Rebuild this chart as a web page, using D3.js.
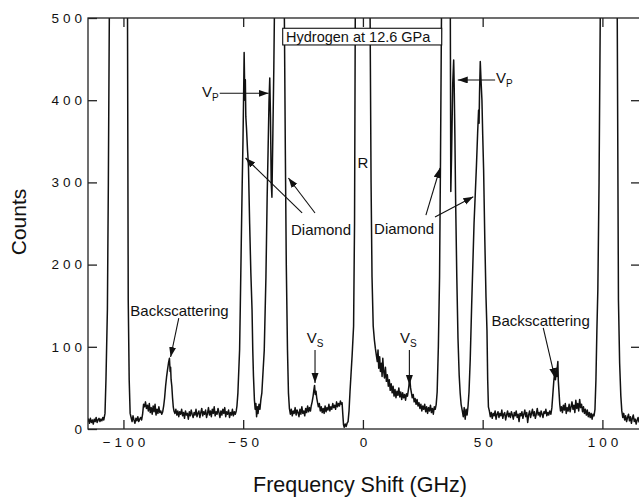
<!DOCTYPE html>
<html>
<head>
<meta charset="utf-8">
<script src="https://cdn.jsdelivr.net/npm/d3@7"></script>
<style>
  body { margin: 0; background: #fff; }
  svg text { font-family: "Liberation Sans", Arial, sans-serif; fill: #111; }
</style>
</head>
<body>
<svg id="chart"></svg>
<script>
// spectrum: [frequency shift (GHz), counts]
// off-scale peaks are given 900 and get clipped at the top
const leftWing = [
  [-115,9],[-114.6,12],[-114.2,7],[-113.8,13],[-113.4,8],[-113,11],[-112.6,6],[-112.2,12],[-111.8,9],[-111.4,14],
  [-111,8],[-110.6,11],[-110.2,13],[-109.8,9],[-109.4,12],[-109,10],[-108.6,14],[-108.2,11],[-107.7,19],[-107.3,60],
  [-106.7,145],[-106.3,300],[-105.9,500],[-105.4,900],[-98.8,900],[-98.3,500],[-98.0,157],[-97.6,60],[-97.2,19],
  [-96.8,14],[-96.4,9],[-96,16],[-95.6,11],[-95.2,7],[-94.8,13],[-94.4,10],[-94,15],[-93.6,9],[-93.2,12],[-92.8,14],
  [-92.4,11],[-92,18],[-91.6,30],[-91.2,27],[-90.8,33],[-90.4,25],[-90,29],[-89.6,22],[-89.2,31],[-88.8,20],
  [-88.4,26],[-88,18],[-87.6,28],[-87.2,21],[-86.8,30],[-86.4,17],[-86,24],[-85.6,19],[-85.2,27],[-84.8,20],
  [-84.4,22],[-84,18],[-83.6,21],[-83.2,28],[-82.8,38],[-82.4,52],[-82,63],[-81.6,72],[-81.2,80],[-80.8,86],
  [-80.5,70],[-80.3,75],[-80.1,60],[-79.8,52],[-79.5,38],[-79.2,27],[-78.9,22],[-78.5,19]
]

const leftPeaks = [
  [-78.1,24],[-77.7,17],[-77.3,22],[-76.9,15],[-76.5,21],[-76.1,18],[-75.7,24],[-75.3,16],[-74.9,20],[-74.5,13],
  [-74.1,22],[-73.7,17],[-73.3,19],[-72.9,12],[-72.5,21],[-72.1,16],[-71.7,23],[-71.3,18],[-70.9,14],[-70.5,20],
  [-70.1,17],[-69.7,24],[-69.3,15],[-68.9,19],[-68.5,22],[-68.1,14],[-67.7,20],[-67.3,25],[-66.9,16],[-66.5,21],
  [-66.1,18],[-65.7,23],[-65.3,14],[-64.9,19],[-64.5,26],[-64.1,17],[-63.7,22],[-63.3,15],[-62.9,24],[-62.5,19],
  [-62.1,27],[-61.7,16],[-61.3,21],[-60.9,18],[-60.5,25],[-60.1,20],[-59.7,14],[-59.3,22],[-58.9,17],[-58.5,24],
  [-58.1,19],[-57.7,26],[-57.3,15],[-56.9,21],[-56.5,18],[-56.1,23],[-55.7,14],[-55.3,20],[-54.9,17],[-54.5,24],
  [-54.1,16],[-53.7,21],[-53.3,18],[-52.9,22],[-52.6,28],[-52.2,44],[-51.5,96],[-51.2,150],[-50.8,226],[-50.4,300],
  [-50.1,348],[-49.8,410],[-49.6,458],[-49.3,400],[-49.1,425],[-48.9,380],[-48.6,365],[-48.2,340],[-47.8,320],
  [-47.3,250],[-46.8,190],[-46.3,145],[-46.0,96],[-45.7,64],[-45.3,35],[-45.0,24],[-44.7,31],[-44.4,15],[-44.1,27],
  [-43.8,19],[-43.4,30],[-43.0,24],[-42.6,36],[-42.2,44],[-41.2,96],[-40.5,185],[-40.0,280],[-39.6,339],[-39.2,400],
  [-38.9,427],[-38.6,380],[-38.3,300],[-38.0,282],[-37.6,360],[-37.2,440],[-36.9,520],[-36.6,900],[-33.2,900],
  [-32.8,500],[-32.4,339],[-32.0,200],[-31.5,96],[-31.1,44],[-30.7,25]
]

const center = [
  [-30.3,18],[-29.9,24],[-29.5,16],[-29.1,22],[-28.7,19],[-28.3,26],[-27.9,17],[-27.5,23],[-27.1,20],[-26.7,15],
  [-26.3,24],[-25.9,18],[-25.5,27],[-25.1,19],[-24.7,22],[-24.3,16],[-23.9,25],[-23.5,20],[-23.1,28],[-22.7,21],
  [-22.3,26],[-21.9,22],[-21.6,28],[-21.2,33],[-20.8,40],[-20.5,47],[-20.2,53],[-19.9,42],[-19.6,46],[-19.3,38],
  [-19.0,33],[-18.6,27],[-18.2,31],[-17.8,22],[-17.4,27],[-17.0,20],[-16.6,25],[-16.2,19],[-15.8,28],[-15.4,21],
  [-15.0,26],[-14.6,23],[-14.2,30],[-13.8,22],[-13.4,27],[-13.0,24],[-12.6,31],[-12.2,26],[-11.8,29],[-11.4,24],
  [-11.0,33],[-10.6,27],[-10.2,31],[-9.8,28],[-9.4,34],[-9.0,30],[-8.7,32],[-8.4,18],[-8.1,5],[-7.8,2],
  [-7.4,6],[-7.0,3],[-6.6,7],[-6.2,9],[-5.8,22],[-5.4,45],[-5.0,65],[-4.5,90],[-3.9,125],[-3.5,250],
  [-3.2,500],[-2.9,900],[2.6,900],[3.0,500],[3.4,300],[3.8,185],[4.3,125],[4.8,108],[5.2,98],[5.6,90],
  [6.0,82],[6.3,96],[6.6,74],[7.0,88],[7.3,70],[7.7,80],[8.0,64],[8.3,86],[8.6,72],[9.0,62],
  [9.4,75],[9.8,58],[10.2,66],[10.6,52],[11.0,60],[11.4,47],[11.8,55],[12.2,44],[12.6,52],[13.0,40],
  [13.4,48],[13.8,38],[14.2,46],[14.6,41],[15.0,50],[15.4,39],[15.8,45],[16.2,36],[16.6,44],[17.0,38],
  [17.4,42],[17.8,35],[18.2,43],[18.6,40],[19.0,48],[19.3,55],[19.6,60],[19.9,50],[20.2,45],[20.6,38],
  [21.0,42],[21.4,33],[21.8,37],[22.2,30],[22.6,36],[23.0,28],[23.4,32],[23.8,25],[24.2,30],[24.6,22],
  [25.0,28],[25.4,24],[25.8,30],[26.2,21],[26.6,27],[27.0,19],[27.4,26],[27.8,22],[28.2,29],[28.6,20],
  [29.0,25],[29.4,18],[29.8,27],[30.2,24]
]

const rightPeaks = [
  [30.6,30],[31.0,45],[31.5,100],[32.0,185],[32.4,330],[32.8,500],[33.1,900],[36.2,900],[36.5,500],[36.7,289],
  [37.0,330],[37.5,420],[37.9,449],[38.1,420],[38.4,357],[38.7,280],[39.2,185],[39.7,110],[40.2,65],[40.6,44],
  [41.0,30],[41.5,22],[41.9,15],[42.3,26],[42.7,12],[43.1,24],[43.5,17],[43.9,28],[44.3,45],[44.8,84],
  [45.4,150],[45.9,200],[46.4,250],[46.9,285],[47.4,320],[47.9,360],[48.3,388],[48.5,372],[48.7,410],[49.0,447],
  [49.3,425],[49.7,400],[50.0,360],[50.4,315],[50.9,230],[51.4,160],[51.8,120],[52.1,60],[52.4,27]
]

const rightWing = [
  [52.8,22],[53.2,15],[53.6,20],[54.0,13],[54.4,19],[54.8,16],[55.2,22],[55.6,12],[56.0,18],[56.4,21],
  [56.8,14],[57.2,19],[57.6,16],[58.0,23],[58.4,13],[58.8,18],[59.2,20],[59.6,11],[60.0,17],[60.4,22],
  [60.8,15],[61.2,19],[61.6,14],[62.0,21],[62.4,17],[62.8,12],[63.2,20],[63.6,16],[64.0,22],[64.4,14],
  [64.8,18],[65.2,9],[65.6,19],[66.0,16],[66.4,21],[66.8,13],[67.2,18],[67.6,23],[68.0,15],[68.4,20],
  [68.8,8],[69.2,17],[69.6,22],[70.0,14],[70.4,19],[70.8,24],[71.2,16],[71.6,21],[72.0,13],[72.4,18],
  [72.8,25],[73.2,17],[73.6,20],[74.0,15],[74.4,22],[74.8,18],[75.2,14],[75.6,21],[76.0,19],[76.4,24],
  [76.8,16],[77.2,20],[77.6,17],[78.0,22],[78.5,18],[78.9,26],[79.3,42],[79.7,58],[80.1,70],[80.4,60],
  [80.7,74],[81.0,64],[81.2,76],[81.4,82],[81.6,58],[81.9,44],[82.2,30],[82.5,22],[82.9,27],[83.3,20],
  [83.7,29],[84.1,23],[84.5,31],[84.9,19],[85.3,26],[85.7,22],[86.1,30],[86.5,21],[86.9,27],[87.3,33],
  [87.7,24],[88.1,29],[88.5,20],[88.9,35],[89.3,25],[89.7,31],[90.1,22],[90.5,36],[90.9,26],[91.3,30],
  [91.7,21],[92.1,27],[92.5,19],[92.9,24],[93.3,17],[93.7,23],[94.1,15],[94.5,20],[94.9,14],[95.3,19],
  [95.7,12],[96.1,18],[96.5,16],[96.9,24],[97.3,60],[97.7,120],[98.1,170],[98.6,300],[99.1,500],[99.5,900],
  [105.8,900],[106.2,500],[106.7,157],[107.2,80],[107.7,40],[108.1,22],[108.5,14],[108.9,19],[109.3,11],[109.7,16],
  [110.1,9],[110.5,14],[110.9,18],[111.3,10],[111.7,15],[112.1,7],[112.5,13],[112.9,17],[113.3,9],[113.7,12],
  [114.1,6],[114.5,11],[114.9,14],[115.3,8]
]

const xTicks = [-100, -50, 0, 50, 100]
const yTicks = [0, 100, 200, 300, 400, 500]

// annotations in data units (GHz, counts)
const notes = [
  {t: "V", sub: "P", x: -67.2, y: 404},
  {t: "V", sub: "P", x: 55.6, y: 420.6},
  {t: "V", sub: "S", x: -23.5, y: 104.3},
  {t: "V", sub: "S", x: 15.5, y: 104.3},
  {t: "Backscattering", x: -76.6, y: 137.5, mid: true},
  {t: "Backscattering", x: 74.2, y: 125.3, mid: true},
  {t: "Diamond", x: -17.5, y: 236, mid: true},
  {t: "Diamond", x: 17.2, y: 237.5, mid: true},
  {t: "R", x: 0, y: 318, mid: true}
]
const arrows = [
  [-59.8, 408.4, -39.4, 408.4],
  [55.2, 424.6, 39.6, 424.6],
  [-20, 96, -20, 56],
  [19.4, 96, 19.4, 53.5],
  [-76.9, 135, -80.3, 87.6],
  [75.3, 122.9, 80.2, 62],
  [-25.4, 262.8, -49.0, 329.7],
  [-20, 262.8, -31.1, 305.4],
  [26.3, 260.3, 32.2, 317.5],
  [30.1, 257.9, 46.1, 282.6]
]

let width = 639
let height = 498
let padL = 88, padR = 640, padT = 18, padB = 429

let svg = d3.select("#chart").attr("width", width).attr("height", height)

let xScale = d3.scaleLinear().domain([-114.8, 115.7]).range([padL, padR])
let yScale = d3.scaleLinear().domain([0, 500]).range([padB, padT])

let spectrum = leftWing.concat(leftPeaks, center, rightPeaks, rightWing)

let defs = svg.append("defs")
defs.append("clipPath").attr("id", "plot")
  .append("rect")
  .attr("x", padL).attr("y", padT)
  .attr("width", padR - padL).attr("height", padB - padT)

defs.append("marker")
  .attr("id", "head")
  .attr("markerUnits", "userSpaceOnUse")
  .attr("markerWidth", 10).attr("markerHeight", 8)
  .attr("refX", 10).attr("refY", 3.5)
  .attr("orient", "auto")
  .append("path").attr("d", "M0,0L10,3.5L0,7Z").attr("fill", "#111")

// the trace
let line = d3.line().x(d => xScale(d[0])).y(d => yScale(d[1]))
svg.append("path")
  .datum(spectrum)
  .attr("clip-path", "url(#plot)")
  .attr("d", line)
  .attr("fill", "none")
  .attr("stroke", "#111")
  .attr("stroke-width", 1.5)
  .attr("stroke-linejoin", "round")

// frame + inward ticks on all sides
svg.append("rect")
  .attr("x", padL).attr("y", padT)
  .attr("width", padR - padL).attr("height", padB - padT)
  .attr("fill", "none").attr("stroke", "#222").attr("stroke-width", 1.3)

let styleAxis = (g) => {
  g.select(".domain").remove()
  g.selectAll(".tick line").attr("stroke", "#222").attr("stroke-width", 1.3)
}

svg.append("g")
  .attr("transform", "translate(0," + padB + ")")
  .call(d3.axisBottom(xScale).tickValues(xTicks).tickSize(-9).tickSizeOuter(0).tickPadding(8))
  .call(styleAxis)
  .selectAll("text")
  .style("font-size", "13.5px")
  .style("letter-spacing", "4px")
  .attr("dx", "2px")
  .attr("fill", "#111")

svg.append("g")
  .attr("transform", "translate(0," + padT + ")")
  .call(d3.axisTop(xScale).tickValues(xTicks).tickSize(-9).tickSizeOuter(0).tickFormat(""))
  .call(styleAxis)

svg.append("g")
  .attr("transform", "translate(" + padL + ",0)")
  .call(d3.axisLeft(yScale).tickValues(yTicks).tickSize(-9).tickSizeOuter(0).tickPadding(6))
  .call(styleAxis)
  .selectAll("text")
  .style("font-size", "13.5px")
  .style("letter-spacing", "4px")
  .attr("dx", "4px")
  .attr("fill", "#111")

svg.append("g")
  .attr("transform", "translate(" + padR + ",0)")
  .call(d3.axisLeft(yScale).tickValues(yTicks.slice(1, 5)).tickSize(9).tickSizeOuter(0).tickFormat(""))
  .call(styleAxis)

// axis titles
svg.append("text")
  .attr("x", 360).attr("y", 492)
  .attr("text-anchor", "middle")
  .style("font-size", "21.5px")
  .text("Frequency Shift (GHz)")

svg.append("text")
  .attr("transform", "translate(26,222) rotate(-90)")
  .attr("text-anchor", "middle")
  .style("font-size", "21px")
  .text("Counts")

// title box
svg.append("rect")
  .attr("x", xScale(-33.5)).attr("y", yScale(487.5))
  .attr("width", xScale(32.9) - xScale(-33.5))
  .attr("height", yScale(467.2) - yScale(487.5))
  .attr("fill", "#fff").attr("stroke", "#111").attr("stroke-width", 1.1)

svg.append("text")
  .attr("x", xScale(-32.1)).attr("y", yScale(471.2))
  .style("font-size", "14.5px")
  .text("Hydrogen at 12.6 GPa")

// labels
notes.forEach(n => {
  let t = svg.append("text")
    .attr("x", xScale(n.x)).attr("y", yScale(n.y))
    .attr("text-anchor", n.mid ? "middle" : "start")
    .style("font-size", "15px")
    .text(n.t)
  if (n.sub) {
    t.append("tspan").attr("dy", 4).style("font-size", "10px").text(n.sub)
  }
})

svg.selectAll(".arrow")
  .data(arrows)
  .enter()
  .append("line")
  .attr("class", "arrow")
  .attr("x1", d => xScale(d[0])).attr("y1", d => yScale(d[1]))
  .attr("x2", d => xScale(d[2])).attr("y2", d => yScale(d[3]))
  .attr("stroke", "#111")
  .attr("stroke-width", 1.1)
  .attr("marker-end", "url(#head)")
</script>
</body>
</html>
